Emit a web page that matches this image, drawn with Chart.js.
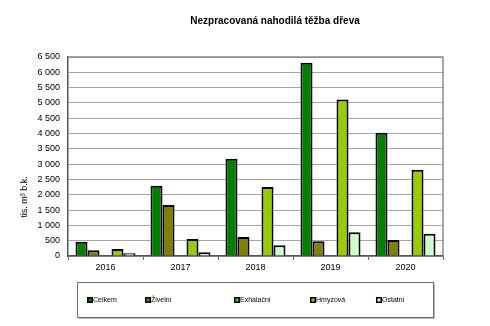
<!DOCTYPE html>
<html>
<head>
<meta charset="utf-8">
<script src="https://cdn.jsdelivr.net/npm/chart.js@4"></script>
<style>
  html, body { margin: 0; padding: 0; background: #fff; }
  #wrap { width: 490px; height: 326px; }
</style>
</head>
<body>
<div id="wrap"><canvas id="c" width="490" height="326"></canvas></div>
<script>
const years = ['2016', '2017', '2018', '2019', '2020'];
const celkem    = [465, 2295, 3175, 6315, 4025];
const zivelni   = [185, 1665, 620, 478, 522];
const exhalacni = [0, 0, 0, 0, 0];
const hmyzova   = [228, 555, 2250, 5110, 2815];
const ostatni   = [87, 120, 348, 772, 728];
const seriesNames = ['Celkem', 'Živelní', 'Exhalační', 'Hmyzová', 'Ostatní'];
const yTicks = [0, 500, 1000, 1500, 2000, 2500, 3000, 3500, 4000, 4500, 5000, 5500, 6000, 6500];

const colors = ['#008000', '#808000', '#33cc33', '#99cc00', '#ccffcc'];
const FONT = 'Arial, "Liberation Sans", sans-serif';

const seriesValues = [celkem, zivelni, exhalacni, hmyzova, ostatni];
const datasets = seriesNames.map((name, i) => ({
  label: name,
  data: seriesValues[i],
  backgroundColor: colors[i],
  borderColor: '#000',
  borderWidth: 2,
  borderSkipped: 'bottom',
  categoryPercentage: 0.8,
  barPercentage: 1.0
}));

// Title, y-axis caption, plot frame and boxed legend
const decor = {
  id: 'decor',
  afterDraw(chart) {
    const ctx = chart.ctx;
    const a = chart.chartArea;
    ctx.save();
    // top and right frame edges
    ctx.strokeStyle = '#8c8c8c';
    ctx.lineWidth = 1.5;
    ctx.beginPath();
    ctx.moveTo(a.left, Math.round(a.top));
    ctx.lineTo(Math.round(a.right), Math.round(a.top));
    ctx.lineTo(Math.round(a.right), a.bottom);
    ctx.stroke();

    // title
    ctx.fillStyle = '#000';
    ctx.font = 'bold 10px ' + FONT;
    ctx.textAlign = 'center';
    ctx.textBaseline = 'middle';
    ctx.fillText('Nezpracovaná nahodilá těžba dřeva', 275, 21);

    // y-axis caption
    ctx.save();
    ctx.translate(25, 197);
    ctx.rotate(-Math.PI / 2);
    ctx.font = '9px ' + FONT;
    ctx.fillText('tis. m³ b.k.', 0, 0);
    ctx.restore();

    // legend box with a soft shadow on bottom/right
    const lx = 77, ly = 282, lw = 356, lh = 35;
    ctx.strokeStyle = '#a0a0a0';
    ctx.lineWidth = 1.5;
    ctx.beginPath();
    ctx.moveTo(lx + lw + 1, ly + 2);
    ctx.lineTo(lx + lw + 1, ly + lh + 1);
    ctx.lineTo(lx + 2, ly + lh + 1);
    ctx.stroke();
    ctx.strokeStyle = '#6e6e6e';
    ctx.lineWidth = 1;
    ctx.strokeRect(lx + 0.5, ly + 0.5, lw, lh);
    const itemX = [87, 145, 234, 310, 376];
    const iy = ly + lh / 2 + 0.5;
    ctx.font = '7px ' + FONT;
    ctx.textAlign = 'left';
    chart.data.datasets.forEach((ds, i) => {
      const x = itemX[i];
      ctx.fillStyle = '#000';
      ctx.fillRect(x, iy - 3, 6, 6);
      ctx.fillStyle = ds.backgroundColor;
      ctx.fillRect(x + 1.5, iy - 1.5, 3, 3);
      ctx.fillStyle = '#000';
      ctx.fillText(ds.label, x + 6, iy);
    });
    ctx.restore();
  }
};

new Chart(document.getElementById('c'), {
  type: 'bar',
  data: { labels: years, datasets },
  options: {
    responsive: false,
    animation: false,
    devicePixelRatio: 1,
    layout: { padding: { left: 0, top: 57, right: 47, bottom: 50 } },
    plugins: {
      legend: { display: false },
      title: { display: false },
      tooltip: { enabled: false }
    },
    scales: {
      x: {
        grid: {
          display: true,
          drawOnChartArea: false,
          drawTicks: true,
          tickLength: 4,
          color: '#666',
          offset: true
        },
        border: { display: true, color: '#555', width: 1.5 },
        ticks: { color: '#000', font: { family: FONT, size: 9 }, padding: 2 },
        afterFit(scale) { scale.height = 20; }
      },
      y: {
        min: 0,
        max: 6500,
        afterBuildTicks(scale) { scale.ticks = yTicks.map(v => ({ value: v })); },
        grid: { color: '#a6a6a6', lineWidth: 1, drawTicks: false },
        border: { display: true, color: '#555', width: 1.5 },
        ticks: {
          color: '#000',
          font: { family: FONT, size: 9 },
          padding: 8,
          callback: v => String(v).replace(/\B(?=(\d{3})+(?!\d))/g, ' ')
        },
        afterFit(scale) { scale.width = 68; }
      }
    }
  },
  plugins: [decor]
});
</script>
</body>
</html>
